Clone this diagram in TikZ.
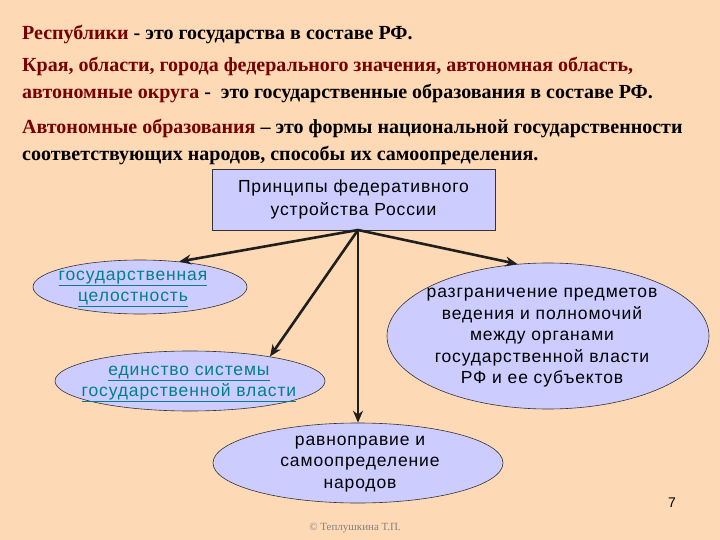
\documentclass[tikz,border=0pt]{standalone}
\usepackage{fontspec}
\setmainfont{Liberation Serif}
\newfontfamily\arialf[LetterSpace=5]{Liberation Sans}
\usepackage{tikz}
\usetikzlibrary{shapes.geometric,arrows.meta}

\definecolor{peach}{RGB}{253,217,181}
\definecolor{lilac}{RGB}{204,204,255}
\definecolor{maroon}{RGB}{120,0,0}
\definecolor{tealtxt}{RGB}{0,128,140}
\definecolor{copygray}{RGB}{130,130,130}

\tikzset{
  head/.style={anchor=west,inner sep=0pt,align=left,font=\bfseries\fontsize{20}{27}\selectfont},
  ovl/.style={ellipse,draw=black!80,fill=lilac,line width=0.6pt,inner sep=0pt},
  ovltext/.style={inner sep=0pt,align=center,font=\arialf\fontsize{17.5}{21.5}\selectfont},
  arr/.style={draw=black!88,line width=2.6pt,-{Stealth[length=12pt,width=10pt]}}
}

\begin{document}
\begin{tikzpicture}[x=1pt,y=1pt,yscale=-1]
%background, 720 x 540
\path[fill=peach] (0,0) rectangle (720,540);

% Text Node
\node (rep) [head] at (22,35) {\textcolor{maroon}{Республики} - это государства в составе РФ.};
% Text Node
\node (kraya) [head] at (22,80.5) {\textcolor{maroon}{Края, области, города федерального значения, автономная область,}\\
\textcolor{maroon}{автономные округа} -\ \ это государственные образования в составе РФ.};
% Text Node
\node (avt) [head] at (22,142) {\textcolor{maroon}{Автономные образования} -- это формы национальной государственности\\
соответствующих народов, способы их самоопределения.};

%Shape: Rectangle
\node (princ) [draw=black!80,fill=lilac,line width=0.6pt,minimum width=283,minimum height=61,
  align=center,font=\arialf\fontsize{17.5}{23}\selectfont] at (353.5,199.5)
  {Принципы федеративного\\устройства России};
\coordinate (hub) at (358,230);

%Shape: Ellipse
\node (cel) [ovl,minimum width=214,minimum height=54] at (140,287) {};
\node [ovltext,text=tealtxt] at (133,289) {\underline{государственная}\\\underline{целостность}};
%Shape: Ellipse
\node (edin) [ovl,minimum width=270,minimum height=60] at (190,381) {};
\node [ovltext,text=tealtxt] at (189,384) {\underline{единство системы}\\\underline{государственной власти}};
%Shape: Ellipse
\node (razgr) [ovl,minimum width=322,minimum height=146] at (548,336) {};
\node [ovltext] at (542,338) {разграничение предметов\\ведения и полномочий\\между органами\\государственной власти\\РФ и ее субъектов};
%Shape: Ellipse
\node (ravn) [ovl,minimum width=290,minimum height=80] at (358,463) {};
\node [ovltext] at (360,464) {равноправие и\\самоопределение\\народов};

%Straight Lines
\draw[arr] (hub) -- (cel.33);
\draw[arr] (hub) -- (edin.17);
\draw[arr] (hub) -- (razgr.113);
\draw[arr] (hub) -- (ravn.north);

% Text Node
\node (num) [font=\arialf\fontsize{14}{16}\selectfont,inner sep=0pt] at (672,503) {7};
% Text Node
\node (copy) [font=\fontsize{11}{13}\selectfont,text=copygray,inner sep=0pt] at (355,528) {© Теплушкина Т.П.};
\end{tikzpicture}
\end{document}
